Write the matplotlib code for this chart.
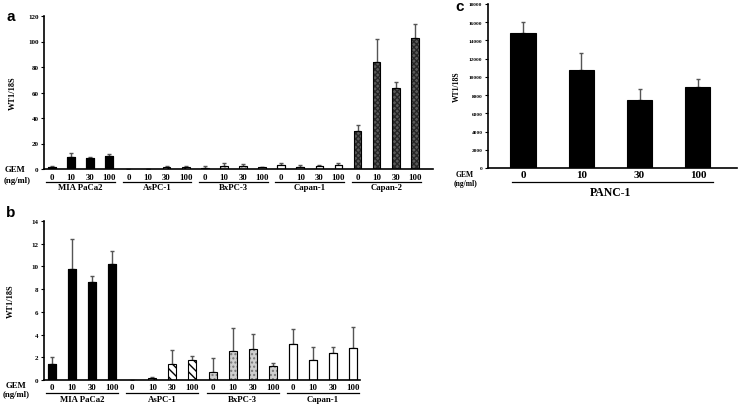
import matplotlib
matplotlib.use("Agg")
import matplotlib.pyplot as plt
import numpy as np

# ---------------- data ----------------
doses = ["0", "10", "30", "100"]
groups_a = ["MIA PaCa2", "AsPC-1", "BxPC-3", "Capan-1", "Capan-2"]
groups_b = ["MIA PaCa2", "AsPC-1", "BxPC-3", "Capan-1"]

mia_vals = [1.45, 9.8, 8.6, 10.2]
mia_err = [0.6, 2.6, 0.6, 1.2]
aspc_vals = [0.0, 0.15, 1.45, 1.72]
aspc_err = [0.0, 0.1, 1.15, 0.4]
bxpc_vals = [0.72, 2.52, 2.72, 1.22]
bxpc_err = [1.25, 2.1, 1.3, 0.25]
capan1_vals = [3.18, 1.78, 2.38, 2.8]
capan1_err = [1.27, 1.1, 0.5, 1.9]
capan2_vals = [30.0, 84.0, 63.4, 103.0]
capan2_err = [4.4, 18.0, 5.0, 10.5]

panc_vals = [14850, 10800, 7450, 8900]
panc_err = [1150, 1800, 1250, 880]

W, H = 738, 406
fig = plt.figure(figsize=(W / 100, H / 100), dpi=100)

SERIF = "Liberation Serif"

def add_ax(l, r, t, b):
    return fig.add_axes([l / W, 1 - b / H, (r - l) / W, (b - t) / H])

styles = {
    "MIA PaCa2": dict(fc="black", hatch=None, hc="black"),
    "AsPC-1": dict(fc="white", hatch="\\\\\\\\", hc="black"),
    "BxPC-3": dict(fc="#cfcfcf", hatch="....", hc="#777777"),
    "Capan-1": dict(fc="white", hatch=None, hc="black"),
    "Capan-2": dict(fc="#5a5a5a", hatch="xxxxxx", hc="#262626"),
}
values = {
    "MIA PaCa2": (mia_vals, mia_err),
    "AsPC-1": (aspc_vals, aspc_err),
    "BxPC-3": (bxpc_vals, bxpc_err),
    "Capan-1": (capan1_vals, capan1_err),
    "Capan-2": (capan2_vals, capan2_err),
}

def style_axis(ax, ylim, yticks, fs):
    ax.set_ylim(*ylim)
    ax.set_yticks(yticks)
    for s in ["top", "right"]:
        ax.spines[s].set_visible(False)
    for s in ["left", "bottom"]:
        ax.spines[s].set_linewidth(1.2)
    ax.set_xticks([])
    ax.tick_params(axis="y", length=2, width=0.8, pad=2, labelsize=fs)
    for lab in ax.get_yticklabels():
        lab.set_fontfamily(SERIF)
        lab.set_fontweight("bold")

def grouped_panel(ax, groups, bottom_px, height_px, tick_y, line_y, name_y, width):
    tr = ax.get_xaxis_transform()
    def yf(p):
        return (bottom_px - p) / height_px
    pos = 0
    for g in groups:
        vals, errs = values[g]
        st = styles[g]
        xs = np.arange(pos, pos + 4)
        ax.bar(xs, vals, width=width, color=st["fc"], hatch=st["hatch"],
               edgecolor=st["hc"], linewidth=0 if st["hatch"] else 0.8, zorder=2)
        ax.bar(xs, vals, width=width, fill=False, edgecolor="black",
               linewidth=0.8, zorder=3)
        ev = [e if e > 0 else np.nan for e in errs]
        ax.errorbar(xs, vals, yerr=[np.zeros(4), ev], fmt="none",
                    ecolor="#555555", elinewidth=1.0, capsize=1.6, capthick=1.0,
                    zorder=1)
        for x, d in zip(xs, doses):
            ax.text(x, yf(tick_y), d, transform=tr, ha="center", va="center",
                    fontsize=6.3, fontfamily=SERIF, fontweight="bold")
        ax.plot([pos - 0.3, pos + 3.3], [yf(line_y)] * 2, transform=tr,
                color="black", lw=0.9, clip_on=False)
        ax.text(pos + 1.5, yf(name_y), g, transform=tr, ha="center",
                va="center", fontsize=6.3, fontfamily=SERIF, fontweight="bold")
        pos += 4

# ---------------- panel a ----------------
a_l, a_r, a_t, a_b = 44, 433, 17, 170
axa = add_ax(a_l, a_r, a_t, a_b)
style_axis(axa, (0, 120), range(0, 121, 20), 5)
axa.set_xlim(-0.42, 19.95)
grouped_panel(axa, groups_a, a_b, a_b - a_t, 178.5, 182.5, 188.5, 0.4)
axa.set_ylabel("WT1/18S", fontsize=6, fontfamily=SERIF, fontweight="bold",
               labelpad=8)
fig.text(5 / W, 1 - 170 / H, "GEM", fontsize=6.3, fontfamily=SERIF,
         fontweight="bold", va="center")
fig.text(4 / W, 1 - 181 / H, "(ng/ml)", fontsize=6.3, fontfamily=SERIF,
         fontweight="bold", va="center")
fig.text(6 / W, 1 - 17 / H, "a", fontsize=11, fontfamily="Liberation Sans",
         fontweight="bold", va="center")

# ---------------- panel b ----------------
b_l, b_r, b_t, b_b = 44, 360, 222, 381
axb = add_ax(b_l, b_r, b_t, b_b)
style_axis(axb, (0, 14), range(0, 15, 2), 5)
axb.set_xlim(-0.4, 15.35)
grouped_panel(axb, groups_b, b_b, b_b - b_t, 388, 393.5, 400, 0.4)
axb.set_ylabel("WT1/18S", fontsize=6, fontfamily=SERIF, fontweight="bold",
               labelpad=12)
fig.text(6 / W, 1 - 386 / H, "GEM", fontsize=6.3, fontfamily=SERIF,
         fontweight="bold", va="center")
fig.text(3 / W, 1 - 395 / H, "(ng/ml)", fontsize=6.3, fontfamily=SERIF,
         fontweight="bold", va="center")
fig.text(6 / W, 1 - 213 / H, "b", fontsize=11, fontfamily="Liberation Sans",
         fontweight="bold", va="center")

# ---------------- panel c ----------------
c_l, c_r, c_t, c_b = 488, 737, 5, 169
axc = add_ax(c_l, c_r, c_t, c_b)
style_axis(axc, (0, 18000), range(0, 18001, 2000), 3.8)
axc.set_xlim(-0.6, 3.67)
xc = np.arange(len(doses))
axc.bar(xc, panc_vals, width=0.43, color="black", edgecolor="black",
        linewidth=0.8, zorder=2)
axc.errorbar(xc, panc_vals, yerr=[np.zeros(4), panc_err], fmt="none",
             ecolor="#555555", elinewidth=1.0, capsize=1.6, capthick=1.0,
             zorder=1)
trc = axc.get_xaxis_transform()
def ycf(p):
    return (c_b - p) / (c_b - c_t)
for x, d in zip(xc, doses):
    axc.text(x, ycf(176), d, transform=trc, ha="center", va="center",
             fontsize=8, fontfamily=SERIF, fontweight="bold")
axc.plot([-0.19, 3.26], [ycf(183)] * 2, transform=trc, color="black", lw=0.9,
         clip_on=False)
axc.text(1.5, ycf(193), "PANC-1", transform=trc, ha="center", va="center",
         fontsize=8.5, fontfamily=SERIF, fontweight="bold")
axc.set_ylabel("WT1/18S", fontsize=5.5, fontfamily=SERIF, fontweight="bold",
               labelpad=6)
fig.text(465 / W, 1 - 175 / H, "GEM", fontsize=5.5, fontfamily=SERIF,
         fontweight="bold", va="center", ha="center")
fig.text(465 / W, 1 - 184 / H, "(ng/ml)", fontsize=5.5, fontfamily=SERIF,
         fontweight="bold", va="center", ha="center")
fig.text(455 / W, 1 - 7 / H, "c", fontsize=11, fontfamily="Liberation Sans",
         fontweight="bold", va="center")

fig.savefig("out.png", dpi=100)
